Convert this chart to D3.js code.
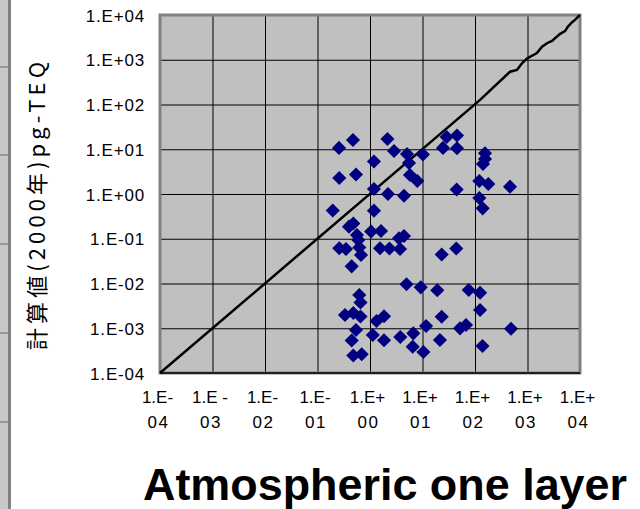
<!DOCTYPE html>
<html>
<head>
<meta charset="utf-8">
<script src="https://cdn.jsdelivr.net/npm/d3@7"></script>
<style>
  body { margin: 0; background: #fff; }
  .axis text { font-family: "Liberation Sans", Arial, sans-serif; fill: #000; }
</style>
</head>
<body>
<div class="chart"></div>
<script>
// Data.
const tickValues = [1e-4, 1e-3, 1e-2, 1e-1, 1e0, 1e1, 1e2, 1e3, 1e4];
const yTickLabels = ["1.E-04", "1.E-03", "1.E-02", "1.E-01", "1.E+00", "1.E+01", "1.E+02", "1.E+03", "1.E+04"];
const xTickTop = ["1.E-", "1.E -", "1.E-", "1.E-", "1.E+", "1.E+", "1.E+", "1.E+", "1.E+"];
const xTickBottom = ["04", "03", "02", "01", "00", "01", "02", "03", "04"];

// observed (x) vs calculated (y)
const obsValues = [
  0.257, 0.474, 2.15, 2.87, 5.07, 10.2, 1.19, 5.53, 24.6, 28.9,
  45.4, 45.4, 155, 155, 142, 0.260, 0.541, 5.78, 7.96, 121,
  179, 464, 44.8, 1.19, 2.20, 4.44, 121, 140, 0.195, 1.19,
  0.398, 0.481, 0.565, 0.599, 1.05, 1.62, 3.57, 4.44, 0.260, 0.349,
  0.625, 0.674, 1.55, 2.35, 3.73, 23.2, 44.0, 0.448,
  4.96, 9.25, 19.1, 75.9, 125, 125, 0.625, 0.659, 0.334, 0.481,
  0.659, 1.33, 1.85, 23.2, 11.7, 51.8, 67.4, 485, 0.541, 0.448,
  1.13, 1.85, 3.78, 6.68, 6.51, 21.5, 10.4, 139, 0.481, 0.695
];
const calcValues = [
  10.7, 16.1, 16.9, 9.14, 7.83, 7.63, 5.32, 4.93, 10.7, 18.8,
  20.3, 10.5, 8.12, 6.06, 4.68, 2.28, 2.73, 2.66, 1.95, 1.95,
  1.67, 1.46, 1.26, 1.29, 1.0, 0.916, 0.814, 0.479, 0.428, 0.424,
  0.186, 0.219, 0.121, 0.0938, 0.145, 0.149, 0.102, 0.115, 0.0612, 0.059,
  0.0637, 0.0434, 0.0612, 0.0605, 0.059, 0.0445, 0.0605, 0.0242,
  0.00964, 0.00822, 0.00705, 0.00716, 0.00623, 0.00256, 0.00553, 0.00376, 0.00198, 0.00219,
  0.00183, 0.00145, 0.00185, 0.00181, 0.00112, 0.000997, 0.00118, 0.000977, 0.000914, 0.000532,
  0.000707, 0.000538, 0.000637, 0.000771, 0.000387, 0.000546, 0.000295, 0.000401, 0.000246, 0.000263
];

// 1:1 line
const lineX = [1e-4, 125, 465, 630, 785, 980, 1510, 1890, 2350, 2930, 3490, 4180, 5180, 5900, 7050, 8040, 9160, 1e4];
const lineY = [1e-4, 127, 540, 590, 835, 1070, 1410, 1950, 2340, 2630, 3160, 3800, 4370, 5500, 6900, 7760, 9120, 1e4];

const titleText = "Atmospheric one layer";
const yLabelText = "計算値(2000年)pg-TEQ";

// Margin convention.
const W = 640, H = 509;
const margin = { top: 15, right: 60, bottom: 136, left: 160 };
const width = W - margin.left - margin.right;
const height = H - margin.top - margin.bottom;

const root = d3.select(".chart").append("svg")
  .attr("width", W)
  .attr("height", H);

// Left edge of the neighbouring chart.
root.append("rect").attr("x", 0).attr("y", 0).attr("width", 9).attr("height", H).attr("fill", "#c8c8c8");
root.append("rect").attr("x", 8).attr("y", 0).attr("width", 3).attr("height", H).attr("fill", "#808080");
root.selectAll(".edge-line")
  .data([67, 155, 244, 333, 422])
  .enter()
  .append("line")
  .attr("x1", 0).attr("x2", 8)
  .attr("y1", (d) => d).attr("y2", (d) => d)
  .attr("stroke", "#666").attr("stroke-width", 1);

const svg = root.append("g").attr("transform", `translate(${margin.left}, ${margin.top})`);

// Scales.
const xScale = d3.scaleLog().domain([1e-4, 1e4]).range([0, width]);
const yScale = d3.scaleLog().domain([1e-4, 1e4]).range([height, 0]);

// Plot area.
svg.append("rect")
  .attr("width", width)
  .attr("height", height)
  .attr("fill", "#c0c0c0");

// Grid via axes.
const xGrid = d3.axisBottom(xScale).tickValues(tickValues).tickSize(-height).tickFormat("");
svg.append("g").attr("class", "grid")
  .attr("transform", `translate(0, ${height})`)
  .call(xGrid)
  .call((g) => g.select(".domain").remove())
  .call((g) => g.selectAll("line").attr("stroke", "#000").attr("stroke-width", 1));

const yGrid = d3.axisLeft(yScale).tickValues(tickValues).tickSize(-width).tickFormat("");
svg.append("g").attr("class", "grid")
  .call(yGrid)
  .call((g) => g.select(".domain").remove())
  .call((g) => g.selectAll("line").attr("stroke", "#000").attr("stroke-width", 1));

// Border.
svg.append("rect")
  .attr("width", width)
  .attr("height", height)
  .attr("fill", "none")
  .attr("stroke", "#808080")
  .attr("stroke-width", 3);
svg.append("line")
  .attr("x1", 0).attr("x2", width)
  .attr("y1", height).attr("y2", height)
  .attr("stroke", "#000").attr("stroke-width", 1.5);

// Y axis labels.
const yAxis = d3.axisLeft(yScale).tickValues(tickValues).tickSize(0)
  .tickFormat((d, i) => yTickLabels[i]);
svg.append("g").attr("class", "y axis")
  .call(yAxis)
  .call((g) => g.select(".domain").remove())
  .call((g) => g.selectAll("text")
    .attr("x", -15)
    .attr("dy", "0.36em")
    .style("font-size", "17px")
    .style("letter-spacing", "0.8px"));

// X axis labels (two lines).
const xAxis = d3.axisBottom(xScale).tickValues(tickValues).tickSize(0).tickFormat("");
const xAxisDraw = svg.append("g").attr("class", "x axis")
  .attr("transform", `translate(0, ${height})`)
  .call(xAxis)
  .call((g) => g.select(".domain").remove());
xAxisDraw.selectAll(".tick").each(function (d, i) {
  const t = d3.select(this);
  t.append("text").attr("x", -3).attr("y", 30).attr("text-anchor", "middle")
    .style("font-size", "17px").text(xTickTop[i]);
  t.append("text").attr("x", -2).attr("y", 55).attr("text-anchor", "middle")
    .style("font-size", "17px").style("letter-spacing", "1.5px").text(xTickBottom[i]);
});

// 1:1 line.
const line = d3.line()
  .x((d) => xScale(d[0]))
  .y((d) => yScale(d[1]));
svg.append("path")
  .datum(lineX.map((x, i) => [x, lineY[i]]))
  .attr("d", line)
  .attr("fill", "none")
  .attr("stroke", "#000")
  .attr("stroke-width", 2.5);

// Draw points.
const diamond = d3.symbol().type(d3.symbolSquare).size(100);
svg.append("g").attr("class", "points")
  .selectAll("path")
  .data(obsValues.map((x, i) => [x, calcValues[i]]))
  .enter()
  .append("path")
  .attr("d", diamond)
  .attr("transform", (d) => `translate(${xScale(d[0])}, ${yScale(d[1])}) rotate(45)`)
  .attr("fill", "#000080");

// Y label.
root.append("text")
  .attr("transform", `translate(45, 206) rotate(-90)`)
  .attr("text-anchor", "middle")
  .attr("font-family", "'Noto Sans CJK JP', sans-serif")
  .attr("font-size", 22)
  .attr("textLength", 288)
  .attr("lengthAdjust", "spacing")
  .text(yLabelText);

// Title.
root.append("text")
  .attr("x", 385)
  .attr("y", 500)
  .attr("text-anchor", "middle")
  .attr("font-family", "'Liberation Sans', Arial, sans-serif")
  .attr("font-weight", "bold")
  .attr("font-size", 44)
  .attr("textLength", 484)
  .attr("lengthAdjust", "spacingAndGlyphs")
  .text(titleText);
</script>
</body>
</html>
